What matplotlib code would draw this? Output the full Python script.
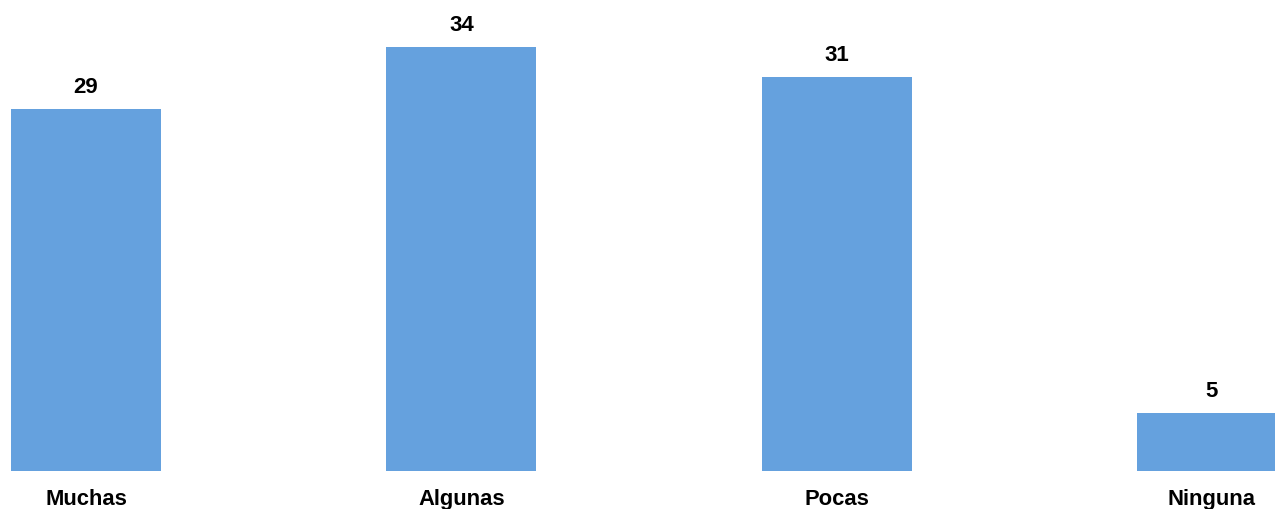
import matplotlib
matplotlib.use("Agg")
import matplotlib.pyplot as plt

categories = ["Muchas", "Algunas", "Pocas", "Ninguna"]
values = [28.8, 33.7, 31.3, 4.6]
value_labels = [f"{v:.0f}" for v in values]

bar_color = "#65A1DE"

fig = plt.figure(figsize=(12.75, 5.1), dpi=100)
ax = fig.add_axes([0, 38 / 510, 1, 1 - 38 / 510])

x = list(range(len(categories)))
ax.bar(x, values, width=0.4, color=bar_color, zorder=2)

ax.set_xlim(-0.2291, 3.1679)
ax.set_ylim(0, 37.52)
ax.axis("off")

for xi, v, lab in zip(x, values, value_labels):
    ax.annotate(lab, xy=(xi, v), xytext=(0, 17), textcoords="offset pixels",
                ha="center", va="baseline", fontsize=16, fontweight="bold",
                family=["Liberation Sans", "DejaVu Sans"], color="black")

for xi, cat in zip(x, categories):
    ax.annotate(cat, xy=(xi, 0), xycoords=("data", "axes fraction"),
                xytext=(0, -33), textcoords="offset pixels",
                ha="center", va="baseline", fontsize=15.8, fontweight="bold",
                family=["Liberation Sans", "DejaVu Sans"], color="black",
                annotation_clip=False)

fig.savefig("out.png", dpi=100, facecolor="white")
